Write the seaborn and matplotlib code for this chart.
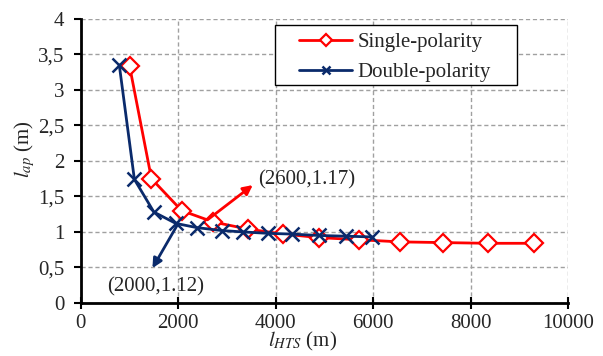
import matplotlib
matplotlib.use("Agg")
import matplotlib.pyplot as plt
from matplotlib.patches import Rectangle
import seaborn as sns
import pandas as pd

single_x = [1000, 1450, 2070, 2720, 3430, 4160, 4890, 5710, 6550, 7440, 8350, 9310]
single_y = [3.34, 1.75, 1.30, 1.14, 1.04, 0.97, 0.92, 0.89, 0.86, 0.85, 0.84, 0.84]
double_x = [790, 1100, 1500, 1950, 2390, 2890, 3330, 3850, 4330, 4890, 5440, 5970]
double_y = [3.35, 1.74, 1.28, 1.12, 1.06, 1.02, 1.00, 0.98, 0.97, 0.95, 0.94, 0.93]
labels = ["Single-polarity", "Double-polarity"]
ann_single = (2600, 1.17)
ann_double = (2000, 1.12)

sns.set_style("ticks")
plt.rcParams["font.family"] = ["Liberation Serif", "DejaVu Serif"]
plt.rcParams["mathtext.fontset"] = "stix"

fig = plt.figure(figsize=(6.03, 3.56), dpi=100)
ax = fig.add_axes([0.134, 0.149, 0.808, 0.798])

df1 = pd.DataFrame({"x": single_x, "y": single_y})
df2 = pd.DataFrame({"x": double_x, "y": double_y})
red = "#FF0000"
navy = "#0A2A6B"
sns.lineplot(data=df1, x="x", y="y", ax=ax, color=red, lw=2, marker="D",
             markersize=9, markerfacecolor="white", markeredgecolor=red,
             markeredgewidth=1.6, label=labels[0], sort=False)
sns.lineplot(data=df2, x="x", y="y", ax=ax, color=navy, lw=2, marker="x",
             markersize=10, markeredgecolor=navy, markeredgewidth=1.8,
             label=labels[1], sort=False)

ax.set_xlim(0, 10000)
ax.set_ylim(0, 4)
ax.set_xticks(range(0, 10001, 2000))
ax.set_yticks([0, 0.5, 1, 1.5, 2, 2.5, 3, 3.5, 4])
ax.set_yticklabels(["0", "0,5", "1", "1,5", "2", "2,5", "3", "3,5", "4"])
ax.tick_params(axis="both", labelsize=15, width=1.5, color="black")
ax.tick_params(axis="x", direction="inout", length=8, pad=4)
ax.tick_params(axis="y", direction="out", length=5, pad=7)
ax.grid(True, linestyle=(0, (3, 2)), color="#A0A0A0", lw=1)
ax.set_axisbelow(True)
for s in ["top", "right"]:
    ax.spines[s].set_visible(False)
for s in ["left", "bottom"]:
    ax.spines[s].set_linewidth(2)
    ax.spines[s].set_color("black")

ax.set_xlabel(r"$l_{HTS}$ (m)", fontsize=15)
ax.xaxis.set_label_coords(0.456, -0.095)
ax.set_ylabel(r"$l_{ap}$ (m)", fontsize=15)
ax.yaxis.set_label_coords(-0.09, 0.54)

ax.annotate("", xy=(3530, 1.66), xytext=ann_single,
            arrowprops=dict(arrowstyle="-|>", color=red, lw=2, mutation_scale=14,
                            shrinkA=0, shrinkB=0))
ax.text(3640, 1.73, "(%d,%.2f)" % ann_single, fontsize=15, va="center", ha="left")
ax.annotate("", xy=(1470, 0.49), xytext=ann_double,
            arrowprops=dict(arrowstyle="-|>", color=navy, lw=2, mutation_scale=14,
                            shrinkA=0, shrinkB=0))
ax.text(1530, 0.22, "(%d,%.2f)" % ann_double, fontsize=15, va="center", ha="center")

leg = ax.legend(loc="upper left", bbox_to_anchor=(0.448, 0.952), fontsize=15,
                frameon=False, handlelength=2.55, handletextpad=0.25,
                borderpad=0, borderaxespad=0, labelspacing=0.5)
for h in leg.legend_handles:
    h.set_markersize(6)
ax.add_patch(Rectangle((0.398, 0.768), 0.497, 0.211, transform=ax.transAxes,
                       facecolor="white", edgecolor="black", lw=1, zorder=4))
leg.set_zorder(5)

fig.savefig("out.png", dpi=100)
